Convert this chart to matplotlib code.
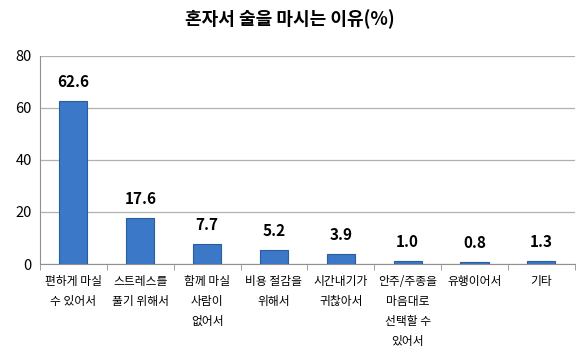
import matplotlib.pyplot as plt
import numpy as np

plt.rcParams['font.family'] = ['Noto Sans CJK KR', 'DejaVu Sans']

categories = ["편하게 마실\n수 있어서", "스트레스를\n풀기 위해서", "함께 마실\n사람이\n없어서",
              "비용 절감을\n위해서", "시간내기가\n귀찮아서", "안주/주종을\n마음대로\n선택할 수\n있어서",
              "유행이어서", "기타"]
values = [62.6, 17.6, 7.7, 5.2, 3.9, 1.0, 0.8, 1.3]
yticks = [0, 20, 40, 60, 80]

fig = plt.figure(figsize=(5.8, 3.52), dpi=100)
ax = fig.add_axes([0.069, 0.25, 0.922, 0.591])

x = np.arange(len(values))
ax.bar(x, values, width=0.42, color='#3b78c8', edgecolor='#2b5c9e', linewidth=0.8, zorder=3)
for xi, v in zip(x, values):
    ax.annotate(f"{v:.1f}", (xi, v), xytext=(0, 8), textcoords='offset points',
                ha='center', va='bottom', fontsize=11, fontweight='bold')

ax.set_xlim(-0.5, len(values) - 0.5)
ax.set_ylim(0, 80)
ax.set_yticks(yticks)
ax.tick_params(axis='y', length=0, labelsize=10.5, pad=6)
ax.grid(axis='y', color='#b0b0b0', linewidth=0.9, zorder=0)

ax.set_xticks(x)
ax.set_xticklabels(categories, fontsize=8.5, linespacing=1.7, va='top')
ax.set_xticks(np.arange(-0.5, len(values)), minor=True)
ax.tick_params(axis='x', which='major', length=0, pad=8)
ax.tick_params(axis='x', which='minor', length=4, color='#909090')

for s in ['top', 'right']:
    ax.spines[s].set_visible(False)
for s in ['left', 'bottom']:
    ax.spines[s].set_color('#909090')

fig.suptitle("혼자서 술을 마시는 이유(%)", x=0.5, y=0.975, fontsize=13, fontweight='bold')

fig.savefig("out.png", dpi=100)
